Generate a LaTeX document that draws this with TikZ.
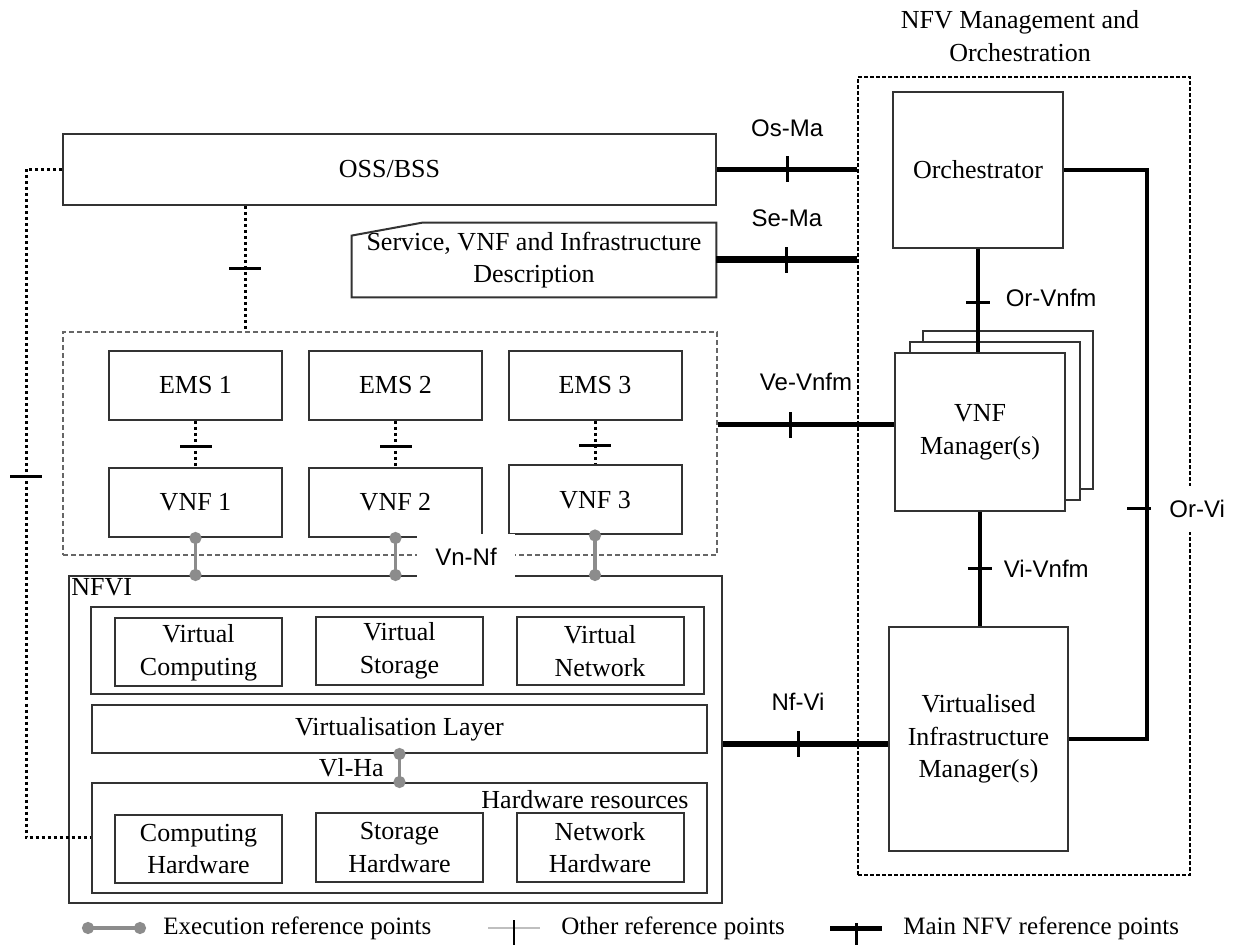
\documentclass[tikz,border=0pt]{standalone}
\usepackage{fontspec}
\setmainfont{Liberation Serif}
\setsansfont{Liberation Sans}
\usepackage{tikz}
\usetikzlibrary{calc}
\usetikzlibrary{positioning}
\usetikzlibrary{arrows.meta}
\definecolor{boxline}{gray}{.2}
\definecolor{execgray}{gray}{.55}
\definecolor{dashgray}{gray}{.4}
\definecolor{leggray}{gray}{.75}
\newcommand{\px}{0.5pt}
\newcommand{\widthunit}{86.5pt}
\newcommand{\heightunit}{34.5pt}
\newcommand{\widthres}{83.5pt}
\newcommand{\heightres}{34pt}
\newcommand{\widthlayer}{307.5pt}
\newcommand{\widthmgr}{85pt}
\tikzset{
    common/.style={draw=boxline, line width=1pt, rectangle, inner sep=0pt, align=center, font=\fontsize{13}{16.3}\selectfont},
    unit/.style={common, minimum width=\widthunit, minimum height=\heightunit},
    res/.style={common, minimum width=\widthres, minimum height=\heightres},
    layer/.style={common, minimum width=\widthlayer},
    mgr/.style={common, fill=white, minimum width=\widthmgr, minimum height=79pt},
    group/.style={draw=dashgray, line width=1pt, dash pattern=on 2.5pt off 1.5pt},
    manobox/.style={draw=black, line width=0.6pt, dash pattern=on 2pt off 1pt},
    txt/.style={inner sep=0pt, align=center, font=\fontsize{13}{16.3}\selectfont},
    legtxt/.style={txt, anchor=west, font=\fontsize{12.5}{15}\selectfont},
    reflabel/.style={inner sep=1pt, font=\sffamily\fontsize{12}{14}\selectfont},
    mainref/.style={draw=black, line width=2.5pt},
    mainthin/.style={draw=black, line width=1.75pt},
    otherref/.style={draw=black, line width=1.5pt, dash pattern=on 1.5pt off 1.5pt},
    exec/.style={draw=execgray, line width=1.75pt, {Circle[length=6pt]}-{Circle[length=6pt]}, shorten <=-3pt, shorten >=-3pt},
    vtick/.style={fill=black, inner sep=0pt, minimum width=1.5pt, minimum height=13pt},
    htick/.style={fill=black, inner sep=0pt, minimum width=16pt, minimum height=1.5pt},
    htickshort/.style={htick, minimum width=12pt}
}
\begin{document}
\begin{tikzpicture}[x=\px, y=-\px]
    \useasboundingbox (0,0) rectangle (1237,945);

    % left side: OSS/BSS, VNFs, NFVI
    \node[common, minimum width=326.5pt, minimum height=35.5pt] (oss) at (389.5,169.5) {OSS/BSS};
    \node[txt, minimum width=182pt, minimum height=37pt] (desc) at (534,260) {Service, VNF and Infrastructure\\Description};
    \draw[draw=boxline, line width=1pt] ($(desc.north west)+(0,13)$) -- ($(desc.north west)+(71,0)$) -- (desc.north east) -- (desc.south east) -- (desc.south west) -- cycle;

    \node[group, minimum width=327pt, minimum height=111.5pt] (vnfs) at (390,443.5) {};
    \node[unit] (ems1) at (195.5,385.5) {EMS 1};
    \node[unit] (ems2) at (395.5,385.5) {EMS 2};
    \node[unit] (ems3) at (595,385.5) {EMS 3};
    \node[unit] (vnf1) at (195.5,502.5) {VNF 1};
    \node[unit] (vnf2) at (395.5,502.5) {VNF 2};
    \node[unit] (vnf3) at (595,500) {VNF 3};

    \node[common, minimum width=326.5pt, minimum height=163.5pt] (nfvi) at (395.5,739.5) {};
    \node[txt, anchor=north west] (nfvilbl) at ($(nfvi.north west)+(3,3)$) {NFVI};
    \node[common, minimum width=306.5pt, minimum height=43.5pt] (virt) at (397.5,650.5) {};
    \node[res] (vcomp) at (198.5,652.5) {Virtual\\Computing};
    \node[res] (vstor) at (399.5,651) {Virtual\\Storage};
    \node[res] (vnet) at (600,651) {Virtual\\Network};
    \node[layer, minimum height=24pt] (vlayer) at (399.5,729) {Virtualisation Layer};
    \node[layer, minimum height=55pt] (hwres) at (399.5,838) {};
    \node[txt, anchor=east] (hwlbl) at ($(hwres.north east)+(-19,18)$) {Hardware resources};
    \node[res] (chw) at (198.5,849) {Computing\\Hardware};
    \node[res] (shw) at (399.5,847.5) {Storage\\Hardware};
    \node[res] (nhw) at (600,847.5) {Network\\Hardware};

    % right side: management and orchestration
    \node[manobox, minimum width=166pt, minimum height=399pt] (mano) at (1024,476) {};
    \node[txt] (manolbl) at (1020,36) {NFV Management and\\Orchestration};
    \node[common, minimum width=\widthmgr, minimum height=78pt] (orch) at (978,170) {Orchestrator};
    \node[mgr] (vnfmback) at (1008,410) {};
    \node[mgr] (vnfmmid) at (995,421) {};
    \node[mgr] (vnfm) at (980,432) {VNF\\Manager(s)};
    \node[common, minimum width=89.5pt, minimum height=112pt] (vim) at (978.5,739) {Virtualised\\Infrastructure\\Manager(s)};

    \coordinate (vevnfm) at (790,425);
    \coordinate (nfvitick) at (798,744);
    \coordinate (orvi) at (1147,509);

    \draw[otherref] (oss.west) -- ++(-36,0) |- node[htick, pos=0.23]{} (hwres.west);
    \draw[otherref] (oss.south -| 245,0) -- node[htick]{} (vnfs.north -| 245,0);
    \draw[otherref] (ems1) -- node[htick, pos=0.56]{} (vnf1);
    \draw[otherref] (ems2) -- node[htick, pos=0.56]{} (vnf2);
    \draw[otherref] (ems3) -- node[htick, pos=0.56]{} (vnf3);

    \draw[mainref] (oss.east) -- node[vtick]{} node[reflabel, above=14pt]{Os-Ma} (oss.east -| mano.west);
    \draw[mainref, line width=3.5pt] (desc.east) -- node[vtick]{} node[reflabel, above=14pt]{Se-Ma} (desc.east -| mano.west);
    \draw[mainref] (vnfs.east |- vevnfm) -- node[vtick, pos=0.41]{} node[reflabel, above=15pt]{Ve-Vnfm} (vnfm.west |- vevnfm);
    \draw[mainref, line width=3pt] (nfvi.east |- nfvitick) -- node[vtick, pos=0.455]{} node[reflabel, above=14pt, pos=0.455]{Nf-Vi} (vim.west |- nfvitick);
    \draw[mainthin] (orch.south) -- node[htickshort, pos=0.52]{} node[reflabel, right=12pt, pos=0.48]{Or-Vnfm} (orch.south |- vnfm.north);
    \draw[mainthin] (vnfm.south) -- node[htickshort]{} node[reflabel, right=10pt]{Vi-Vnfm} (vnfm.south |- vim.north);
    \draw[mainthin] (orch.east) -| (orvi) |- (vim.east);
    \node[htickshort, xshift=-4pt] (orvitick) at (orvi) {};
    \node[reflabel, right=10pt of orvi, fill=white, inner ysep=7pt] (orvilbl) {Or-Vi};

    \draw[exec] (vnf1.south) -- (vnf1.south |- nfvi.north);
    \draw[exec] (vnf2.south) -- (vnf2.south |- nfvi.north);
    \draw[exec] (vnf3.south) -- (vnf3.south |- nfvi.north);
    \draw[exec] (vlayer.south) -- node[txt, left=7pt]{Vl-Ha} (vlayer.south |- hwres.north);
    \node[reflabel, fill=white, minimum width=49pt, minimum height=23pt] (vnnf) at (466,557) {Vn-Nf};

    % legend
    \coordinate (legexecA) at (88,928);
    \coordinate (legexecB) at (140,928);
    \coordinate (legotherA) at (488,928);
    \coordinate (legotherB) at (540,928);
    \coordinate (legmainA) at (830,928);
    \coordinate (legmainB) at (882,928);
    \draw[exec] (legexecA) -- (legexecB);
    \node[legtxt] (legexec) at (163,928) {Execution reference points};
    \draw[draw=leggray, line width=0.75pt] (legotherA) -- node[vtick, minimum width=1.2pt, minimum height=16pt, yshift=-4pt]{} (legotherB);
    \node[legtxt] (legother) at (561,928) {Other reference points};
    \draw[mainref] (legmainA) -- node[vtick, yshift=-4pt]{} (legmainB);
    \node[legtxt] (legmain) at (903,928) {Main NFV reference points};
\end{tikzpicture}
\end{document}
